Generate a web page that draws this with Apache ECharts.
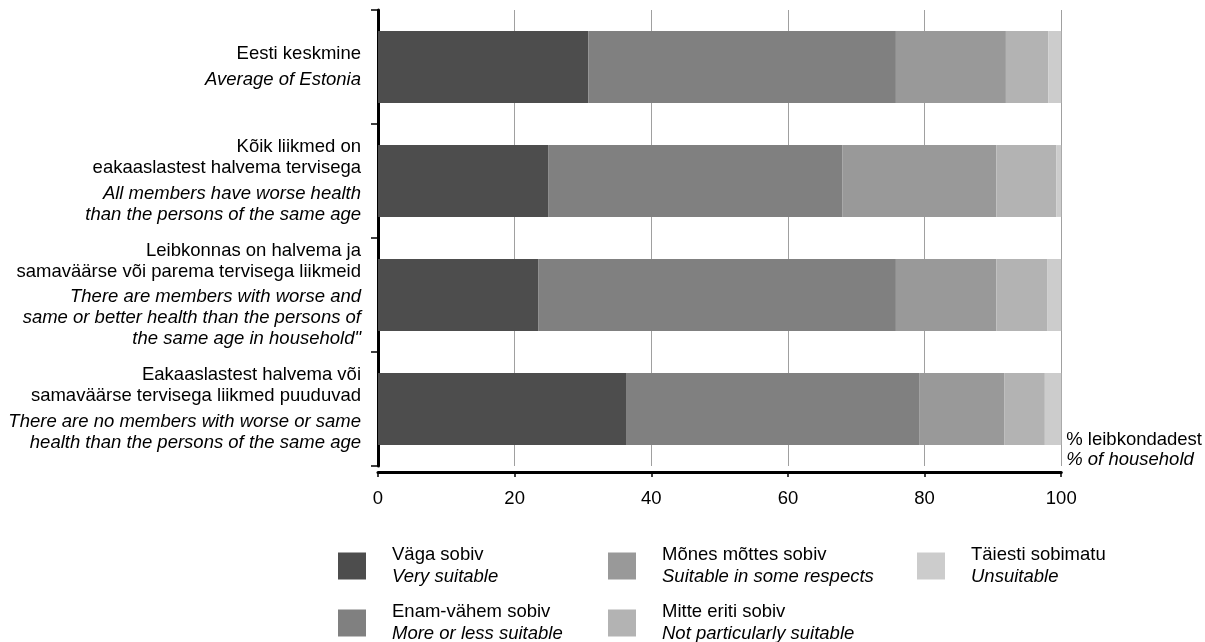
<!DOCTYPE html>
<html><head><meta charset="utf-8">
<script src="https://cdn.jsdelivr.net/npm/echarts@6/dist/echarts.min.js"></script>
<style>html,body{margin:0;padding:0;background:#fff}#c{width:1205px;height:642px}</style>
</head><body><div id="c"></div>
<script>
const categoriesEt = [
  'Eesti keskmine',
  'Kõik liikmed on\neakaaslastest halvema tervisega',
  'Leibkonnas on halvema ja\nsamaväärse või parema tervisega liikmeid',
  'Eakaaslastest halvema või\nsamaväärse tervisega liikmed puuduvad'
];
const categoriesEn = [
  'Average of Estonia',
  'All members have worse health\nthan the persons of the same age',
  'There are members with worse and\nsame or better health than the persons of\nthe same age in household"',
  'There are no members with worse or same\nhealth than the persons of the same age'
];
const seriesNamesEt = ['Väga sobiv', 'Enam-vähem sobiv', 'Mõnes mõttes sobiv', 'Mitte eriti sobiv', 'Täiesti sobimatu'];
const seriesNamesEn = ['Very suitable', 'More or less suitable', 'Suitable in some respects', 'Not particularly suitable', 'Unsuitable'];
const vagaSobiv        = [30.8, 24.9, 23.5, 36.4];
const enamVahemSobiv   = [45.0, 43.1, 52.3, 42.8];
const monesMottesSobiv = [16.1, 22.5, 14.7, 12.5];
const mitteEritiSobiv  = [6.2, 8.8, 7.5, 5.9];
const taiestiSobimatu  = [1.9, 0.7, 2.0, 2.4];
const axisNameEt = '% leibkondadest';
const axisNameEn = '% of household';

const FONT = '"Liberation Sans", Arial, sans-serif';
const FS = 18.5;
const colors = ['#4d4d4d', '#808080', '#999999', '#b3b3b3', '#cccccc'];
const seriesValues = [vagaSobiv, enamVahemSobiv, monesMottesSobiv, mitteEritiSobiv, taiestiSobimatu];

const chart = echarts.init(document.getElementById('c'), null, {renderer: 'canvas'});

function catLabel(v, i) {
  const et = categoriesEt[i].split('\n').map(l => '{a|' + l + '}');
  const en = categoriesEn[i].split('\n').map(l => '{b|' + l + '}');
  return et.join('\n') + '\n{s| }\n' + en.join('\n');
}

const legendCommon = {
  orient: 'vertical',
  padding: 0,
  height: 160,
  itemWidth: 28,
  itemHeight: 27,
  itemGap: 16,
  icon: 'rect',
  selectedMode: false,
  formatter: function (name) {
    const i = seriesNamesEt.indexOf(name);
    return '{a|' + name + '}\n{b|' + seriesNamesEn[i] + '}';
  },
  textStyle: {
    fontFamily: FONT, fontSize: FS, color: '#000',
    padding: [0, 0, 0, 21],
    rich: {
      a: {fontFamily: FONT, fontSize: FS, lineHeight: 22, color: '#000'},
      b: {fontFamily: FONT, fontSize: FS, lineHeight: 22, color: '#000', fontStyle: 'italic'}
    }
  }
};

const option = {
  animation: false,
  backgroundColor: '#fff',
  textStyle: {fontFamily: FONT},
  grid: {left: 378, right: 142.5, top: 10, bottom: 176, containLabel: false},
  legend: [
    Object.assign({}, legendCommon, {left: 338, top: 545.5, data: [seriesNamesEt[0], seriesNamesEt[1]]}),
    Object.assign({}, legendCommon, {left: 608, top: 545.5, data: [seriesNamesEt[2], seriesNamesEt[3]]}),
    Object.assign({}, legendCommon, {left: 917, top: 545.5, data: [seriesNamesEt[4]]})
  ],
  xAxis: {
    type: 'value',
    min: 0, max: 100, interval: 20,
    offset: 6,
    axisLine: {show: true, lineStyle: {color: '#000', width: 3}},
    axisTick: {show: true, length: 5, lineStyle: {color: '#000', width: 1.5}},
    axisLabel: {fontFamily: FONT, fontSize: FS, color: '#000', margin: 17},
    splitLine: {show: true, lineStyle: {color: '#a0a0a0', width: 1}},
    name: axisNameEt + '\n{i|' + axisNameEn + '}',
    nameLocation: 'end',
    nameGap: 5,
    nameTextStyle: {
      fontFamily: FONT, fontSize: FS, color: '#000', lineHeight: 20,
      align: 'left', verticalAlign: 'bottom', padding: [0, 0, 2, 0],
      rich: {i: {fontFamily: FONT, fontSize: FS, lineHeight: 20, color: '#000', fontStyle: 'italic'}}
    }
  },
  yAxis: {
    type: 'category',
    inverse: true,
    data: categoriesEt,
    offset: 4,
    axisLine: {show: true, lineStyle: {color: '#000', width: 3}},
    axisTick: {show: true, length: 7, lineStyle: {color: '#000', width: 1.5}},
    splitLine: {show: false},
    axisLabel: {
      margin: 13,
      align: 'right',
      formatter: catLabel,
      rich: {
        a: {fontFamily: FONT, fontSize: FS, lineHeight: 21, color: '#000', align: 'right'},
        b: {fontFamily: FONT, fontSize: FS, lineHeight: 21, color: '#000', fontStyle: 'italic', align: 'right'},
        s: {fontSize: 1, lineHeight: 4.5}
      }
    }
  },
  series: seriesNamesEt.map((n, k) => ({
    name: n,
    type: 'bar',
    stack: 'total',
    barCategoryGap: '37%',
    itemStyle: {color: colors[k]},
    emphasis: {disabled: true},
    data: seriesValues[k]
  }))
};
chart.setOption(option);
</script>
</body></html>
